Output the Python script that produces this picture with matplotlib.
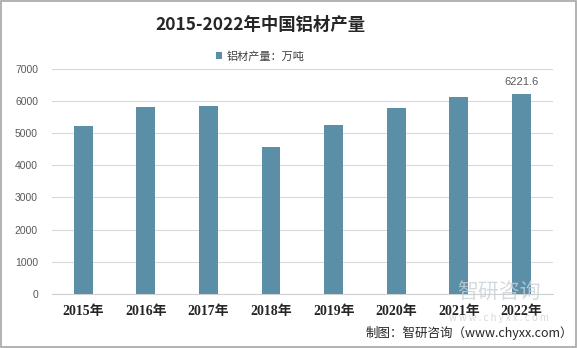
import matplotlib.pyplot as plt
from matplotlib.patches import Rectangle

plt.rcParams['font.family'] = ['Noto Sans CJK SC', 'DejaVu Sans']

# 铝材产量（万吨）
years = ['2015年', '2016年', '2017年', '2018年', '2019年', '2020年', '2021年', '2022年']
output = [5231, 5794, 5825, 4553, 5240, 5762, 6125, 6221.6]
yticks = [0, 1000, 2000, 3000, 4000, 5000, 6000, 7000]

bar_color = '#5A8FA7'

fig = plt.figure(figsize=(5.77, 3.48), dpi=100)
ax = fig.add_axes([0.090, 0.155, 0.868, 0.648])

x = range(len(years))
ax.bar(x, output, width=0.3, color=bar_color, zorder=3, label='铝材产量：万吨')

ax.set_xlim(-0.5, len(years) - 0.5)
ax.set_ylim(0, 7000)
ax.set_yticks(yticks)
ax.set_yticklabels([str(v) for v in yticks], fontsize=7.5, color='#595959',
                   family=['Liberation Sans', 'DejaVu Sans'])
ax.set_xticks(list(x))
ax.set_xticklabels(years, fontsize=10, fontweight='bold', color='#262626',
                   family=['Liberation Serif', 'Noto Sans CJK SC'])
ax.tick_params(axis='both', length=0)
ax.tick_params(axis='x', pad=8)
ax.tick_params(axis='y', pad=10)

ax.grid(axis='y', color='#d9d9d9', linewidth=0.8, zorder=0)
for s in ['top', 'right', 'left']:
    ax.spines[s].set_visible(False)
ax.spines['bottom'].set_color('#d0d0d0')

# 最后一年的数据标签
ax.text(x[-1], output[-1] + 200, f'{output[-1]}', ha='center', va='bottom',
        fontsize=8, color='#595959', family=['Liberation Sans', 'DejaVu Sans'])

fig.text(0.451, 0.928, '2015-2022年中国铝材产量', ha='center', va='center',
         fontsize=12.5, fontweight='bold', color='#262626')

fig.legend(*ax.get_legend_handles_labels(), loc='center', bbox_to_anchor=(0.451, 0.838),
           frameon=False, fontsize=8, handlelength=0.6, handleheight=0.6,
           handletextpad=0.4, labelcolor='#404040')

# 水印
fig.text(0.865, 0.16, '智研咨询', ha='center', va='center', fontsize=15,
         color='#c9d1d8', alpha=0.8, zorder=0)
fig.text(0.865, 0.087, 'w w w . c h y x x . c o m', ha='center', va='center',
         fontsize=7, color='#c9d1d8', alpha=0.8, zorder=0)

fig.text(0.993, 0.043, '制图：智研咨询（www.chyxx.com）', ha='right', va='center',
         fontsize=9, color='#262626')

fig.patches.append(Rectangle((0.001, 0.002), 0.997, 0.995, transform=fig.transFigure,
                             fill=False, edgecolor='#a6a6a6', linewidth=1.2))

fig.savefig('out.png', dpi=100)
